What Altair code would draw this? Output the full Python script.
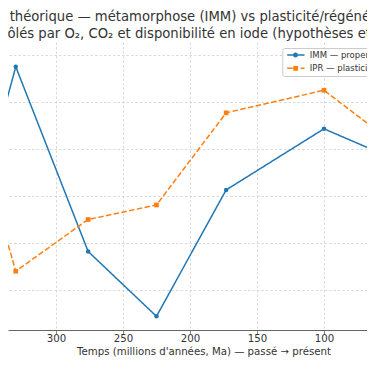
import altair as alt
import pandas as pd

# ---- data ----
years = [360, 330, 276, 225, 173, 100, 0]
imm = [0.461, 0.775, 0.382, 0.244, 0.513, 0.643, 0.520]
ipr = [0.638, 0.340, 0.450, 0.481, 0.677, 0.725, 0.508]
series = ["IMM — propension à la métamorphose", "IPR — plasticité/régénération"]
colors = ["#1f77b4", "#ff7f0e"]
x_ticks = [300, 250, 200, 150, 100]
y_grid = [0.3, 0.4, 0.5, 0.6, 0.7, 0.8]
title_lines = [
    "n théorique — métamorphose (IMM) vs plasticité/régénération (IPR)",
    "\u2009trôlés par O₂, CO₂ et disponibilité en iode (hypothèses et scénarios)",
]
x_title = "Temps (millions d'années, Ma) — passé → présent"

rows = []
for y, a, b in zip(years, imm, ipr):
    rows.append({"annee": y, "valeur": a, "serie": series[0]})
    rows.append({"annee": y, "valeur": b, "serie": series[1]})
df = pd.DataFrame(rows)

FONT = "DejaVu Sans"

xenc = alt.X(
    "annee:Q",
    scale=alt.Scale(domain=[67.9, 335.8], reverse=True, nice=False, zero=False),
    axis=alt.Axis(
        values=x_ticks, title=x_title, format="d",
        titleX=195.5, titleY=24, titleBaseline="alphabetic",
    ),
)
yenc = alt.Y(
    "valeur:Q",
    scale=alt.Scale(domain=[0.2149, 0.8277], nice=False, zero=False),
    axis=alt.Axis(values=y_grid, labels=False, ticks=False, domain=False, title=None),
)

color_scale = alt.Scale(domain=series, range=colors)

# legend glyphs (unit = 4.5 px): line (solid / dashed) with the marker on it, all filled shapes
glyph_imm = (
    "M-0.47,-0.167H0.82V0.167H-0.47Z M1.94,-0.167H3.38V0.167H1.94Z "
    "M0.82,0A0.56,0.56,0,1,1,1.94,0A0.56,0.56,0,1,1,0.82,0Z"
)
glyph_ipr = (
    "M-0.47,-0.167H0.78V0.167H-0.47Z M2.49,-0.167H3.38V0.167H2.49Z "
    "M0.88,-0.53H1.94V0.53H0.88Z"
)

legend = alt.Legend(
    orient="none", legendX=274.3, legendY=6, title=None,
    labelFont=FONT, labelFontSize=8.5, labelColor="#333333", labelLimit=0,
    symbolSize=81, symbolStrokeWidth=0,
    labelOffset=16, padding=2.5, rowPadding=4.3,
    fillColor="white", strokeColor="#cccccc", cornerRadius=2,
)

# legend-only layer: its single point per series lies outside the x domain and is clipped away
legend_layer = (
    alt.Chart(df)
    .transform_filter(alt.datum.annee == years[0])
    .mark_point(clip=True, filled=True, size=20, opacity=1)
    .encode(
        x=xenc, y=yenc,
        color=alt.Color("serie:N", scale=color_scale, legend=legend),
        shape=alt.Shape("serie:N", scale=alt.Scale(domain=series, range=[glyph_imm, glyph_ipr]), legend=legend),
    )
)

lines = alt.Chart(df).mark_line(clip=True, strokeWidth=1.5).encode(
    x=xenc, y=yenc,
    color=alt.Color("serie:N", scale=color_scale, legend=None),
    strokeDash=alt.StrokeDash(
        "serie:N", scale=alt.Scale(domain=series, range=[[1, 0], [5.5, 2.4]]), legend=None
    ),
)
pts_imm = (
    alt.Chart(df).transform_filter(alt.datum.serie == series[0])
    .mark_point(clip=True, filled=True, size=20, opacity=1, shape="circle")
    .encode(x=xenc, y=yenc, color=alt.Color("serie:N", scale=color_scale, legend=None))
)
pts_ipr = (
    alt.Chart(df).transform_filter(alt.datum.serie == series[1])
    .mark_point(clip=True, filled=True, size=22, opacity=1, shape="square")
    .encode(x=xenc, y=yenc, color=alt.Color("serie:N", scale=color_scale, legend=None))
)

chart = (
    alt.layer(legend_layer, lines, pts_imm, pts_ipr)
    .properties(
        width=359, height=288,
        autosize=alt.AutoSizeParams(type="none"),
        padding={"left": 0, "top": 34, "right": 0, "bottom": 27},
        title=alt.TitleParams(
            text=title_lines, anchor="start", frame="group", dx=-10.9,
            font=FONT, fontSize=13.2, fontWeight="normal", color="#333333",
            lineHeight=16.5, offset=1,
        ),
        background="white",
    )
    .configure_view(stroke=None)
    .configure_axis(
        labelFont=FONT, labelFontSize=10.2, labelColor="#333333", labelPadding=0,
        titleFont=FONT, titleFontSize=10.2, titleFontWeight="normal", titleColor="#333333",
        tickColor="#666666", tickSize=3.5, tickWidth=0.8,
        domainColor="#666666", domainWidth=1,
        gridColor="#d0d0d0", gridDash=[2.5, 2], gridWidth=0.8,
    )
)

chart.save("out.html", embed_options={"renderer": "svg", "actions": False})
